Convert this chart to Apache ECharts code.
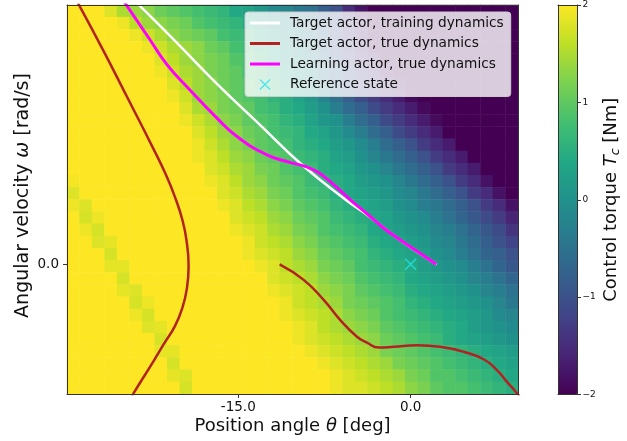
<!DOCTYPE html>
<html>
<head>
<meta charset="utf-8">
<script src="https://cdn.jsdelivr.net/npm/echarts@6.0.0/dist/echarts.min.js"></script>
<style>
html,body{margin:0;padding:0;background:#ffffff;}
#chart{width:627px;height:441px;}
</style>
</head>
<body>
<div id="chart"></div>
<script>
// Control torque Tc [Nm]: rows top (high omega) -> bottom, columns left (low theta) -> right
const torque = [
 [2,2,2,1.8,1.5,1.4,1.3,1.1,1.0,0.9,0.8,0.7,0.6,0.4,0.3,0.1,-0.1,-0.2,-0.4,-0.5,-0.8,-1.0,-1.5,-1.8,-2,-2,-2,-2,-2,-2,-2,-2,-2,-2,-2,-2],
 [2,2,2,2,1.9,1.6,1.4,1.3,1.2,1.1,0.9,0.8,0.7,0.6,0.4,0.2,0.0,-0.1,-0.3,-0.5,-0.7,-1.0,-1.4,-1.7,-2,-2,-2,-2,-2,-2,-2,-2,-2,-2,-2,-2],
 [2,2,2,2,2,1.9,1.7,1.5,1.3,1.2,1.1,1.0,0.8,0.7,0.6,0.4,0.2,0.0,-0.2,-0.4,-0.7,-1.0,-1.4,-1.7,-2,-2,-2,-2,-2,-2,-2,-2,-2,-2,-2,-2],
 [2,2,2,2,2,2,1.9,1.7,1.5,1.4,1.3,1.1,1.0,0.8,0.7,0.5,0.4,0.1,-0.1,-0.3,-0.6,-1.0,-1.3,-1.6,-1.9,-2,-2,-2,-2,-2,-2,-2,-2,-2,-2,-2],
 [2,2,2,2,2,2,2,1.8,1.6,1.4,1.3,1.2,1.1,0.9,0.8,0.6,0.4,0.2,0.0,-0.2,-0.5,-0.9,-1.2,-1.5,-1.7,-2,-2,-2,-2,-2,-2,-2,-2,-2,-2,-2],
 [2,2,2,2,2,2,2,1.9,1.7,1.5,1.4,1.2,1.1,1.0,0.8,0.7,0.5,0.3,0.1,-0.1,-0.4,-0.7,-1.0,-1.3,-1.5,-1.8,-2,-2,-2,-2,-2,-2,-2,-2,-2,-2],
 [2,2,2,2,2,2,2,2,1.8,1.6,1.4,1.3,1.1,1.0,0.9,0.7,0.6,0.4,0.2,0.0,-0.3,-0.6,-0.9,-1.2,-1.4,-1.6,-1.8,-2,-2,-2,-2,-2,-2,-2,-2,-2],
 [2,2,2,2,2,2,2,2,1.9,1.7,1.4,1.3,1.2,1.0,0.9,0.8,0.6,0.5,0.3,0.1,-0.2,-0.5,-0.8,-1.1,-1.3,-1.5,-1.7,-1.9,-2,-2,-2,-2,-2,-2,-2,-2],
 [2,2,2,2,2,2,2,2,2,1.8,1.5,1.4,1.2,1.1,1.0,0.8,0.7,0.5,0.4,0.2,0.0,-0.3,-0.6,-0.8,-1.1,-1.3,-1.5,-1.7,-1.9,-2,-2,-2,-2,-2,-2,-2],
 [2,2,2,2,2,2,2,2,2,1.9,1.7,1.5,1.3,1.2,1.0,0.9,0.8,0.6,0.5,0.3,0.1,0.0,-0.3,-0.6,-0.8,-1.1,-1.3,-1.5,-1.7,-1.9,-2,-2,-2,-2,-2,-2],
 [2,2,2,2,2,2,2,2,2,2,1.8,1.6,1.4,1.3,1.1,1.0,0.8,0.7,0.6,0.4,0.3,0.1,-0.1,-0.3,-0.6,-0.8,-1.1,-1.3,-1.5,-1.7,-2,-2,-2,-2,-2,-2],
 [2,2,2,2,2,2,2,2,2,2,1.9,1.7,1.5,1.3,1.2,1.0,0.9,0.8,0.6,0.5,0.4,0.2,0.1,-0.1,-0.3,-0.6,-0.8,-1.0,-1.3,-1.5,-1.7,-2,-2,-2,-2,-2],
 [2,2,2,2,2,2,2,2,2,2,1.9,1.8,1.6,1.4,1.3,1.1,1.0,0.9,0.7,0.6,0.5,0.3,0.2,0.0,-0.2,-0.4,-0.6,-0.8,-1.0,-1.3,-1.5,-1.7,-2,-2,-2,-2],
 [2,2,2,2,2,2,2,2,2,2,2,1.8,1.7,1.5,1.4,1.2,1.1,0.9,0.8,0.7,0.5,0.4,0.3,0.1,0.0,-0.2,-0.4,-0.6,-0.8,-1.0,-1.3,-1.5,-1.7,-2,-2,-2],
 [1.95,2,2,2,2,2,2,2,2,2,2,1.9,1.8,1.6,1.4,1.3,1.1,1.0,0.9,0.7,0.6,0.5,0.4,0.2,0.1,0.0,-0.2,-0.4,-0.6,-0.8,-1.0,-1.3,-1.5,-1.8,-2,-2],
 [1.8,2,2,2,2,2,2,2,2,2,2,2,1.8,1.7,1.5,1.4,1.2,1.1,0.9,0.8,0.7,0.5,0.4,0.3,0.2,0.1,-0.1,-0.2,-0.4,-0.6,-0.8,-1.0,-1.3,-1.5,-1.8,-2],
 [1.9,1.8,2,2,2,2,2,2,2,2,2,2,1.9,1.8,1.6,1.5,1.3,1.2,1.0,0.9,0.8,0.6,0.5,0.4,0.3,0.2,0.0,-0.1,-0.3,-0.4,-0.6,-0.8,-1.0,-1.3,-1.5,-1.8],
 [2,1.75,1.9,2,2,2,2,2,2,2,2,2,2,1.8,1.7,1.6,1.4,1.3,1.1,1.0,0.9,0.7,0.6,0.5,0.4,0.3,0.1,0.0,-0.1,-0.3,-0.5,-0.7,-0.9,-1.1,-1.3,-1.6],
 [2,1.9,1.75,2,2,2,2,2,2,2,2,2,2,1.9,1.8,1.7,1.5,1.4,1.2,1.1,0.9,0.8,0.7,0.6,0.4,0.3,0.2,0.1,0.0,-0.2,-0.3,-0.5,-0.7,-0.9,-1.1,-1.4],
 [2,2,1.8,1.85,2,2,2,2,2,2,2,2,2,2,1.9,1.7,1.6,1.5,1.3,1.2,1.0,0.9,0.8,0.7,0.5,0.4,0.3,0.2,0.1,-0.1,-0.2,-0.4,-0.6,-0.8,-1.0,-1.2],
 [2,2,2,1.75,2,2,2,2,2,2,2,2,2,2,1.9,1.8,1.7,1.6,1.4,1.3,1.1,1.0,0.9,0.8,0.6,0.5,0.4,0.3,0.2,0.0,-0.1,-0.3,-0.5,-0.7,-0.8,-1.0],
 [2,2,2,1.85,1.85,2,2,2,2,2,2,2,2,2,2,1.9,1.8,1.6,1.5,1.4,1.2,1.1,1.0,0.8,0.7,0.6,0.5,0.4,0.2,0.1,0.0,-0.1,-0.3,-0.5,-0.7,-0.9],
 [2,2,2,2,1.75,2,2,2,2,2,2,2,2,2,2,2,1.8,1.7,1.6,1.5,1.3,1.2,1.1,0.9,0.8,0.7,0.6,0.4,0.3,0.2,0.1,0.0,-0.2,-0.3,-0.5,-0.7],
 [2,2,2,2,1.85,1.8,2,2,2,2,2,2,2,2,2,2,1.9,1.8,1.7,1.6,1.4,1.3,1.2,1.0,0.9,0.8,0.7,0.5,0.4,0.3,0.2,0.1,0.0,-0.2,-0.3,-0.5],
 [2,2,2,2,2,1.75,1.9,2,2,2,2,2,2,2,2,2,2,1.9,1.7,1.6,1.5,1.4,1.2,1.1,1.0,0.9,0.8,0.6,0.5,0.4,0.3,0.2,0.1,0.0,-0.2,-0.4],
 [2,2,2,2,2,1.9,1.75,2,2,2,2,2,2,2,2,2,2,1.9,1.8,1.7,1.6,1.5,1.3,1.2,1.1,0.9,0.8,0.7,0.6,0.5,0.4,0.3,0.2,0.1,-0.1,-0.2],
 [2,2,2,2,2,2,1.8,1.85,2,2,2,2,2,2,2,2,2,2,1.9,1.8,1.6,1.5,1.4,1.3,1.2,1.0,0.9,0.8,0.7,0.6,0.5,0.4,0.2,0.1,0.0,-0.1],
 [2,2,2,2,2,2,2,1.75,2,2,2,2,2,2,2,2,2,2,1.9,1.8,1.7,1.6,1.5,1.4,1.3,1.1,1.0,0.9,0.8,0.7,0.5,0.4,0.3,0.2,0.1,0.0],
 [2,2,2,2,2,2,2,1.85,1.85,2,2,2,2,2,2,2,2,2,2,1.9,1.8,1.7,1.6,1.5,1.4,1.2,1.1,1.0,0.9,0.8,0.7,0.6,0.5,0.4,0.3,0.2],
 [2,2,2,2,2,2,2,2,1.75,2,2,2,2,2,2,2,2,2,2,2,1.9,1.8,1.7,1.6,1.5,1.4,1.2,1.1,1.0,0.9,0.8,0.7,0.6,0.5,0.4,0.3],
 [2,2,2,2,2,2,2,2,1.85,1.8,2,2,2,2,2,2,2,2,2,2,2,1.9,1.8,1.7,1.6,1.5,1.4,1.2,1.1,0.9,0.9,0.8,0.7,0.6,0.5,0.4],
 [2,2,2,2,2,2,2,2,2,1.75,2,2,2,2,2,2,2,2,2,2,2,1.9,1.8,1.8,1.7,1.6,1.5,1.3,1.2,1.0,0.9,0.9,0.8,0.7,0.6,0.5]
];

// Trajectories [theta deg, omega]
const targetTrainPath = [[-24.09,1.020],[-20.42,0.858],[-16.85,0.696],[-13.11,0.538],[-9.46,0.384],[-5.54,0.245],[-3.80,0.191],[-0.93,0.094],[2.26,0.0]];
const targetTruePathA = [[-29.10,1.020],[-26.77,0.827],[-24.68,0.646],[-22.51,0.457],[-21.29,0.345],[-20.42,0.249],[-19.86,0.171],[-19.51,0.094],[-19.32,-0.006],[-19.46,-0.091],[-19.86,-0.168],[-20.51,-0.238],[-21.47,-0.307],[-22.42,-0.377],[-24.10,-0.497],[-24.25,-0.512]];
const targetTruePathB = [[-11.40,0.0],[-9.31,-0.060],[-7.57,-0.137],[-6.12,-0.215],[-4.67,-0.279],[-3.80,-0.302],[-2.78,-0.321],[-1.48,-0.318],[0.55,-0.312],[2.58,-0.318],[4.61,-0.337],[6.35,-0.366],[7.51,-0.408],[8.38,-0.453],[9.25,-0.497],[9.60,-0.516]];
const learnTruePath = [[-25.04,1.020],[-22.68,0.866],[-21.20,0.770],[-19.49,0.686],[-16.85,0.564],[-15.11,0.493],[-12.50,0.422],[-10.50,0.393],[-9.20,0.378],[-8.07,0.355],[-7.00,0.319],[-5.25,0.249],[-3.80,0.195],[-2.35,0.140],[-0.90,0.094],[0.55,0.050],[2.23,0.0]];
const referenceState = [[0.0, 0.0]];

// Axis ranges and ticks
const thetaRange = [-29.9, 9.34];
const omegaRange = [-0.5, 1.0];
const torqueRange = [-2, 2];
const thetaTickValues = [-15, 0];
const thetaTickLabels = ['-15.0', '0.0'];
const omegaTickValues = [0];
const omegaTickLabels = ['0.0'];
const torqueTickValues = [-2, -1, 0, 1, 2];
const torqueTickLabels = ['\u22122', '\u22121', '0', '1', '2'];
const seriesNames = ['Target actor, training dynamics', 'Target actor, true dynamics', 'Learning actor, true dynamics', 'Reference state'];

const FONT = 'DejaVu Sans';
const INK = '#111111';
const SPINE = '#333333';
const viridis = ['#440154','#482475','#414487','#355f8d','#2a788e','#21918c','#22a884','#44bf70','#7ad151','#bddf26','#fde725'];

const thetaBins = torque[0].map((_, j) => j);
const omegaBins = torque.map((_, i) => i);
const heatData = [];
torque.forEach((row, i) => row.forEach((v, j) => heatData.push([j, torque.length - 1 - i, v])));

const lineIcon = 'path://M0,0L0,0M35,14L35,14M0,5.5L30,5.5L30,8.5L0,8.5Z';
const crossIcon = 'path://M0,0L0,0M35,14L35,14M9.5,2.4L10.4,1.5L20.5,11.6L19.6,12.5ZM19.6,1.5L20.5,2.4L10.4,12.5L9.5,11.6Z';
const crossSymbol = 'path://M0,0.9L0.9,0L11,10.1L10.1,11ZM10.1,0L11,0.9L0.9,11L0,10.1Z';

function edgeAxis(gridIndex, position, range) {
  return {
    type: 'value', gridIndex, position, min: range[0], max: range[1], z: 10,
    axisLine: { show: true, onZero: false, lineStyle: { color: SPINE, width: 1 } },
    axisTick: { show: false }, axisLabel: { show: false }, splitLine: { show: false }
  };
}

const chart = echarts.init(document.getElementById('chart'), null, { renderer: 'canvas' });
chart.setOption({
  animation: false,
  backgroundColor: '#ffffff',
  grid: [
    { left: 67, top: 5, width: 451, height: 389, containLabel: false, outerBoundsMode: 'none' },
    { left: 558, top: 5, width: 19.5, height: 389.5, containLabel: false, outerBoundsMode: 'none' }
  ],
  xAxis: [
    { type: 'category', gridIndex: 0, data: thetaBins, show: false, boundaryGap: true, position: 'bottom' },
    {
      type: 'value', gridIndex: 0, position: 'bottom', min: thetaRange[0], max: thetaRange[1], z: 10,
      axisLine: { show: true, onZero: false, lineStyle: { color: SPINE, width: 1 } },
      axisTick: { show: true, customValues: thetaTickValues, length: 4, lineStyle: { color: SPINE, width: 1 } },
      axisLabel: { show: true, customValues: thetaTickValues, margin: 6, fontFamily: FONT, fontSize: 13.5, color: INK,
        formatter: v => thetaTickLabels[thetaTickValues.indexOf(v)] },
      splitLine: { show: false },
      name: 'Position angle {it|\u03b8} [deg]', nameLocation: 'middle', nameGap: 23, nameMoveOverlap: false,
      nameTextStyle: { fontFamily: FONT, fontSize: 18, color: INK,
        rich: { it: { fontFamily: FONT, fontSize: 18, fontStyle: 'italic', color: INK } } }
    },
    edgeAxis(0, 'top', thetaRange),
    edgeAxis(1, 'bottom', [0, 1]),
    edgeAxis(1, 'top', [0, 1])
  ],
  yAxis: [
    { type: 'category', gridIndex: 0, data: omegaBins, show: false, boundaryGap: true, position: 'left' },
    {
      type: 'value', gridIndex: 0, position: 'left', min: omegaRange[0], max: omegaRange[1], z: 10,
      axisLine: { show: true, onZero: false, lineStyle: { color: SPINE, width: 1 } },
      axisTick: { show: true, customValues: omegaTickValues, length: 4, lineStyle: { color: SPINE, width: 1 } },
      axisLabel: { show: true, customValues: omegaTickValues, margin: 8, fontFamily: FONT, fontSize: 13.5, color: INK,
        formatter: v => omegaTickLabels[omegaTickValues.indexOf(v)] },
      splitLine: { show: false },
      name: 'Angular velocity {it|\u03c9} [rad/s]', nameLocation: 'middle', nameGap: 34, nameRotate: 90, nameMoveOverlap: false,
      nameTextStyle: { fontFamily: FONT, fontSize: 19, color: INK, padding: [0, 0, 0, 8],
        rich: { it: { fontFamily: FONT, fontSize: 19, fontStyle: 'italic', color: INK } } }
    },
    edgeAxis(0, 'right', omegaRange),
    {
      type: 'value', gridIndex: 1, position: 'right', min: torqueRange[0], max: torqueRange[1], interval: 1, z: 10,
      axisLine: { show: true, onZero: false, lineStyle: { color: SPINE, width: 1 } },
      axisTick: { show: true, length: 3.5, lineStyle: { color: SPINE, width: 1 } },
      axisLabel: { show: true, margin: 5, fontFamily: FONT, fontSize: 9, color: INK,
        formatter: v => torqueTickLabels[torqueTickValues.indexOf(v)] },
      splitLine: { show: false },
      name: '{a|Control torque }{it|T}{sub|c}{a| [Nm]}', nameLocation: 'middle', nameGap: 22, nameRotate: 90, nameMoveOverlap: false,
      nameTextStyle: { fontFamily: FONT, fontSize: 18, color: INK,
        rich: {
          a: { fontFamily: FONT, fontSize: 18, color: INK },
          it: { fontFamily: FONT, fontSize: 18, fontStyle: 'italic', color: INK },
          sub: { fontFamily: FONT, fontSize: 12.5, fontStyle: 'italic', color: INK, padding: [10, 0, 0, 0] }
        } }
    },
    edgeAxis(1, 'left', torqueRange)
  ],
  visualMap: {
    type: 'continuous', seriesIndex: 0, min: torqueRange[0], max: torqueRange[1],
    calculable: false, show: true, orient: 'vertical', left: 558, top: 5, padding: 0,
    itemWidth: 19.5, itemHeight: 389.5, text: null, hoverLink: false,
    inRange: { color: viridis }
  },
  legend: {
    orient: 'vertical', left: 245, top: 12, padding: [4, 7, 5, 5], itemGap: 6.5,
    itemWidth: 35, itemHeight: 14, selectedMode: false,
    backgroundColor: 'rgba(255,255,255,0.8)', borderColor: '#cccccc', borderWidth: 1, borderRadius: 3,
    textStyle: { fontFamily: FONT, fontSize: 13.7, color: INK },
    itemStyle: { borderWidth: 0 },
    data: [
      { name: seriesNames[0], icon: lineIcon },
      { name: seriesNames[1], icon: lineIcon },
      { name: seriesNames[2], icon: lineIcon },
      { name: seriesNames[3], icon: crossIcon }
    ]
  },
  series: [
    { type: 'heatmap', xAxisIndex: 0, yAxisIndex: 0, data: heatData, itemStyle: { borderWidth: 0 },
      emphasis: { disabled: true }, progressive: 0 },
    { type: 'line', name: seriesNames[0], xAxisIndex: 1, yAxisIndex: 1, data: targetTrainPath,
      smooth: 0.45, symbol: 'none', showSymbol: false, color: '#ffffff',
      lineStyle: { color: '#ffffff', width: 2.5 }, z: 3 },
    { type: 'line', name: seriesNames[1], xAxisIndex: 1, yAxisIndex: 1, data: targetTruePathA,
      smooth: 0.5, symbol: 'none', showSymbol: false, color: '#b22222',
      lineStyle: { color: '#b22222', width: 2.5 }, z: 3 },
    { type: 'line', name: seriesNames[1], xAxisIndex: 1, yAxisIndex: 1, data: targetTruePathB,
      smooth: 0.5, symbol: 'none', showSymbol: false, color: '#b22222',
      lineStyle: { color: '#b22222', width: 2.5 }, z: 3 },
    { type: 'line', name: seriesNames[2], xAxisIndex: 1, yAxisIndex: 1, data: learnTruePath,
      smooth: 0.5, symbol: 'none', showSymbol: false, color: '#ff00ff',
      lineStyle: { color: '#ff00ff', width: 3 }, z: 4 },
    { type: 'scatter', name: seriesNames[3], xAxisIndex: 1, yAxisIndex: 1, data: referenceState,
      symbol: crossSymbol, symbolSize: 12, color: '#22e6ec', itemStyle: { color: '#22e6ec' }, z: 5 }
  ]
});
</script>
</body>
</html>
